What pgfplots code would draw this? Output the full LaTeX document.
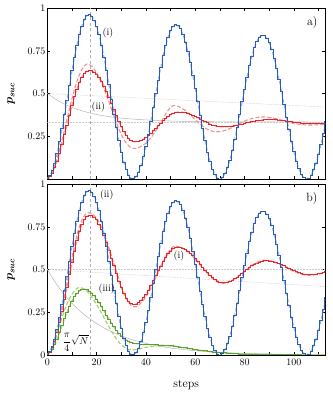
\documentclass[border=0pt]{standalone}
\usepackage{pgfplots}
\pgfplotsset{compat=1.18}
\usepackage{pgfplotstable}
\usepackage{amsmath}
\usepackage{bm}

\definecolor{qblue}{HTML}{2A5CB4}
\definecolor{qblueL}{HTML}{8FB3E6}
\definecolor{qred}{HTML}{E5262D}
\definecolor{qredL}{HTML}{F29090}
\definecolor{qgreen}{HTML}{5C9E31}
\definecolor{qgreenL}{HTML}{A3CF73}
\definecolor{qgray}{HTML}{B4B4B4}
\definecolor{qgrayL}{HTML}{CACACA}
\definecolor{qgrayD}{HTML}{B0B0B0}

% blue walk, same in both panels
\pgfplotstableread{
k p
0 0.002
1 0.018
2 0.048
3 0.093
4 0.150
5 0.218
6 0.294
7 0.377
8 0.462
9 0.548
10 0.632
11 0.711
12 0.782
13 0.844
14 0.894
15 0.931
16 0.954
17 0.961
18 0.953
19 0.930
20 0.893
21 0.843
22 0.782
23 0.711
24 0.633
25 0.550
26 0.465
27 0.380
28 0.299
29 0.223
30 0.156
31 0.099
32 0.053
33 0.021
34 0.004
35 0.001
36 0.012
37 0.038
38 0.078
39 0.130
40 0.191
41 0.261
42 0.338
43 0.418
44 0.498
45 0.578
46 0.653
47 0.721
48 0.781
49 0.830
50 0.867
51 0.891
52 0.901
53 0.896
54 0.878
55 0.845
56 0.801
57 0.745
58 0.680
59 0.608
60 0.531
61 0.451
62 0.372
63 0.295
64 0.223
65 0.158
66 0.102
67 0.057
68 0.025
69 0.006
70 0.000
71 0.008
72 0.030
73 0.065
74 0.111
75 0.167
76 0.231
77 0.301
78 0.375
79 0.451
80 0.525
81 0.596
82 0.662
83 0.719
84 0.767
85 0.804
86 0.829
87 0.840
88 0.838
89 0.824
90 0.796
91 0.756
92 0.707
93 0.647
94 0.581
95 0.510
96 0.436
97 0.361
98 0.289
99 0.221
100 0.159
101 0.105
102 0.061
103 0.028
104 0.008
105 0.000
106 0.005
107 0.023
108 0.053
109 0.093
110 0.144
111 0.202
112 0.267
113 0.335
}\blue

% red walk, panel a
\pgfplotstableread{
k p
0 0.001
1 0.012
2 0.034
3 0.065
4 0.105
5 0.151
6 0.203
7 0.259
8 0.316
9 0.373
10 0.429
11 0.480
12 0.526
13 0.565
14 0.596
15 0.618
16 0.630
17 0.632
18 0.632
19 0.626
20 0.614
21 0.595
22 0.572
23 0.544
24 0.513
25 0.479
26 0.443
27 0.407
28 0.371
29 0.337
30 0.306
31 0.278
32 0.255
33 0.236
34 0.224
35 0.218
36 0.217
37 0.220
38 0.225
39 0.233
40 0.243
41 0.254
42 0.268
43 0.282
44 0.297
45 0.312
46 0.327
47 0.341
48 0.355
49 0.366
50 0.376
51 0.384
52 0.389
53 0.392
54 0.392
55 0.390
56 0.388
57 0.384
58 0.379
59 0.372
60 0.366
61 0.358
62 0.350
63 0.343
64 0.335
65 0.328
66 0.321
67 0.316
68 0.311
69 0.308
70 0.306
71 0.305
72 0.305
73 0.306
74 0.308
75 0.310
76 0.312
77 0.315
78 0.318
79 0.321
80 0.325
81 0.328
82 0.332
83 0.335
84 0.338
85 0.341
86 0.343
87 0.345
88 0.347
89 0.348
90 0.348
91 0.348
92 0.347
93 0.346
94 0.345
95 0.343
96 0.342
97 0.339
98 0.337
99 0.335
100 0.333
101 0.331
102 0.329
103 0.327
104 0.325
105 0.324
106 0.323
107 0.322
108 0.322
109 0.322
110 0.323
111 0.323
112 0.324
113 0.324
}\redA

% red walk, panel b
\pgfplotstableread{
k p
0 0.002
1 0.015
2 0.042
3 0.081
4 0.130
5 0.188
6 0.254
7 0.324
8 0.397
9 0.470
10 0.542
11 0.608
12 0.668
13 0.721
14 0.762
15 0.793
16 0.811
17 0.816
18 0.815
19 0.807
20 0.790
21 0.766
22 0.736
23 0.699
24 0.658
25 0.614
26 0.567
27 0.521
28 0.475
29 0.432
30 0.393
31 0.359
32 0.332
33 0.312
34 0.299
35 0.295
36 0.298
37 0.305
38 0.318
39 0.334
40 0.355
41 0.379
42 0.406
43 0.434
44 0.463
45 0.492
46 0.520
47 0.547
48 0.571
49 0.592
50 0.608
51 0.621
52 0.628
53 0.631
54 0.630
55 0.625
56 0.618
57 0.608
58 0.596
59 0.582
60 0.566
61 0.549
62 0.532
63 0.514
64 0.497
65 0.481
66 0.466
67 0.453
68 0.442
69 0.433
70 0.427
71 0.424
72 0.424
73 0.426
74 0.431
75 0.437
76 0.445
77 0.454
78 0.465
79 0.476
80 0.488
81 0.499
82 0.510
83 0.521
84 0.530
85 0.538
86 0.544
87 0.549
88 0.551
89 0.551
90 0.550
91 0.547
92 0.544
93 0.539
94 0.534
95 0.527
96 0.521
97 0.514
98 0.506
99 0.499
100 0.493
101 0.486
102 0.481
103 0.476
104 0.473
105 0.470
106 0.469
107 0.469
108 0.470
109 0.472
110 0.475
111 0.478
112 0.482
113 0.486
}\redB

% green walk, panel b
\pgfplotstableread{
k p
0 0.000
1 0.012
2 0.031
3 0.059
4 0.093
5 0.133
6 0.172
7 0.212
8 0.250
9 0.285
10 0.315
11 0.340
12 0.360
13 0.375
14 0.383
15 0.385
16 0.382
17 0.374
18 0.362
19 0.346
20 0.327
21 0.305
22 0.282
23 0.258
24 0.234
25 0.210
26 0.187
27 0.165
28 0.145
29 0.127
30 0.111
31 0.098
32 0.088
33 0.080
34 0.074
35 0.070
36 0.067
37 0.065
38 0.063
39 0.062
40 0.061
42 0.060
44 0.059
46 0.058
48 0.056
50 0.054
52 0.051
54 0.047
56 0.042
58 0.037
60 0.032
62 0.028
64 0.024
66 0.020
68 0.017
70 0.014
75 0.009
80 0.006
85 0.004
90 0.003
95 0.002
100 0.001
106 0.000
113 0.000
}\green

\pgfplotsset{
  panel/.style={
    scale only axis, width=277.7bp, height=171bp,
    xmin=0, xmax=112.6, ymin=0, ymax=1,
    xtick={0,10,...,110},
    tick align=inside, tick pos=both,
    major tick length=3bp,
    tick style={black, line width=0.4pt},
    axis line style={line width=0.6pt},
    ylabel={\large$\bm{p_{suc}}$},
    ylabel style={at={(axis description cs:-0.13,0.5)}, anchor=center},
    yticklabel style={xshift=1.5bp},
  },
  stair/.style={const plot mark mid, no marks, line width=0.9pt},
  cont/.style={smooth, no marks, line width=1.1pt, dash pattern=on 4pt off 2pt},
  guide/.style={no marks, qgray, line width=0.5pt},
  dots/.style={no marks, qgray, line width=0.5pt, dash pattern=on 0.5pt off 1pt},
  hdots/.style={no marks, qgrayL, line width=0.5pt, dash pattern=on 0.5pt off 1pt},
  vline/.style={no marks, qgrayD, line width=0.4pt, dash pattern=on 3pt off 2.5pt},
}

\begin{document}
\begin{tikzpicture}
\useasboundingbox (0,0) rectangle (333bp,396bp);

% ---------------- panel a
\begin{axis}[panel, at={(47.3bp,217bp)}, anchor=south west,
    xticklabels={}, ytick={0,0.25,0.5,0.75,1},
    yticklabels={,0.25,0.5,0.75,1}]
\addplot[dots] coordinates {(0,0.5) (112.6,0.421)};
\addplot[hdots] coordinates {(0,0.3333) (112.6,0.3333)};
\addplot[guide, smooth] coordinates {
  (0,0.500) (4,0.461) (8,0.431) (12,0.408) (16,0.391) (20,0.377)
  (25,0.365) (30,0.356) (36,0.349) (42,0.344) (50,0.339) (60,0.336)
  (75,0.334) (90,0.334) (112.6,0.333)};
\addplot[vline] coordinates {(17.4,0) (17.4,1)};
\addplot[cont, qredL] coordinates {
  (0,0) (2,0.04) (4,0.12) (6,0.23) (8,0.35) (10,0.47) (12,0.57) (14,0.64)
  (16,0.672) (18,0.66) (20,0.62) (22,0.56) (24,0.49) (26,0.41) (28,0.33)
  (30,0.26) (32,0.21) (34,0.182) (35.5,0.178) (37,0.183) (40,0.21) (43,0.26)
  (46,0.33) (48,0.38) (50,0.42) (51.5,0.43) (53,0.425) (56,0.40) (59,0.36)
  (62,0.32) (65,0.29) (68,0.276) (71,0.28) (74,0.295) (78,0.325) (82,0.35)
  (86,0.362) (88,0.363) (92,0.355) (96,0.34) (100,0.325) (104,0.317)
  (108,0.316) (112.6,0.32)};
\addplot[cont, qredL] table[x=k, y=p] {\redA};
\addplot[cont, qblueL] table[x=k, y=p] {\blue};
\addplot[stair, qred] table[x=k, y=p] {\redA};
\addplot[stair, qblue] table[x=k, y=p] {\blue};
\node at (axis cs:24.6,0.853) {(i)};
\node at (axis cs:20.7,0.42) {(ii)};
\node[anchor=east] at (axis cs:111,0.914) {\large a)};
\end{axis}

% ---------------- panel b
\begin{axis}[panel, at={(47.3bp,41bp)}, anchor=south west,
    xticklabels={0,,20,,40,,60,,80,,100,},
    ytick={0,0.25,0.5,0.75,1}, yticklabels={0,0.25,0.5,0.75,1},
    xlabel={\large steps},
    xlabel style={at={(axis description cs:0.5,-0.177)}, anchor=center}]
\addplot[hdots] coordinates {(0,0.5) (112.6,0.5)};
\addplot[dots] coordinates {(0,0.5) (112.6,0.40)};
\addplot[guide, smooth] coordinates {
  (0,0.500) (4,0.409) (8,0.335) (12,0.274) (16,0.225) (20,0.184)
  (25,0.143) (30,0.112) (35,0.087) (40,0.068) (45,0.053) (50,0.041)
  (60,0.025) (70,0.015) (80,0.009) (90,0.006) (100,0.003) (112.6,0.002)};
\addplot[vline] coordinates {(17.4,0) (17.4,1)};
\addplot[cont, qredL] coordinates {
  (0,0) (2,0.045) (4,0.14) (6,0.27) (8,0.42) (10,0.57) (12,0.70) (14,0.79)
  (16,0.83) (17,0.832) (18,0.828) (20,0.80) (22,0.745) (24,0.67) (26,0.58)
  (28,0.49) (30,0.40) (32,0.33) (34,0.29) (35.5,0.282) (37,0.29) (40,0.34)
  (43,0.42) (46,0.52) (48,0.575) (50,0.62) (51.5,0.637) (53,0.635)
  (56,0.615) (59,0.575) (62,0.525) (65,0.475) (68,0.435) (70.5,0.418)
  (73,0.422) (76,0.445) (80,0.49) (84,0.535) (87.5,0.555) (91,0.55)
  (95,0.525) (99,0.495) (103,0.473) (106,0.466) (109,0.47) (112.6,0.482)};
\addplot[cont, qredL] table[x=k, y=p] {\redB};
\addplot[cont, qgreenL] coordinates {
  (0,0) (2,0.05) (4,0.13) (6,0.22) (8,0.30) (10,0.355) (12,0.39) (13,0.395)
  (14,0.392) (16,0.375) (18,0.34) (20,0.295) (22,0.245) (24,0.19) (26,0.14)
  (28,0.095) (30,0.06) (32,0.038) (34,0.03) (36,0.032) (38,0.038) (40,0.045)
  (44,0.053) (48,0.054) (52,0.05) (56,0.04) (60,0.031) (66,0.02) (72,0.012)
  (80,0.006) (90,0.003) (100,0.001) (112.6,0)};
\addplot[cont, qgreenL] table[x=k, y=p] {\green};
\addplot[cont, qblueL] table[x=k, y=p] {\blue};
\addplot[stair, qgreen] table[x=k, y=p] {\green};
\addplot[stair, qred] table[x=k, y=p] {\redB};
\addplot[stair, qblue] table[x=k, y=p] {\blue};
\node at (axis cs:24.1,0.934) {(ii)};
\node at (axis cs:53.4,0.58) {(i)};
\node at (axis cs:24.1,0.388) {(iii)};
\node[anchor=east] at (axis cs:111,0.914) {\large b)};
\node[anchor=east, inner sep=1pt] at (axis cs:17.2,0.075) {$\dfrac{\pi}{4}\sqrt{N}$};
\end{axis}
\end{tikzpicture}
\end{document}
